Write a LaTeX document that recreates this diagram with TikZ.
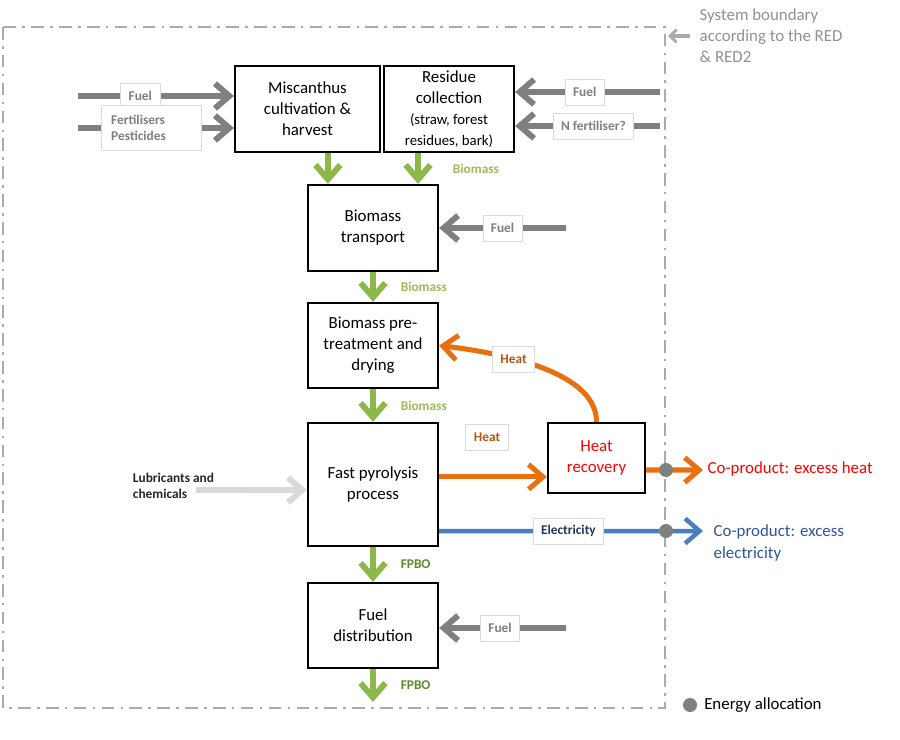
\documentclass[tikz,border=0pt]{standalone}
\usepackage{fontspec}
\setmainfont{Carlito}
\usetikzlibrary{arrows.meta,positioning,calc}
\definecolor{arrgray}{HTML}{7F7F7F}
\definecolor{lightarr}{HTML}{D9D9D9}
\definecolor{boundgray}{HTML}{ABABAB}
\definecolor{leafgreen}{HTML}{8CB84A}
\definecolor{biomasstext}{HTML}{9BBB59}
\definecolor{fpbotext}{HTML}{5A8A2E}
\definecolor{heatorange}{HTML}{E9700F}
\definecolor{heattext}{HTML}{B8560F}
\definecolor{elecblue}{HTML}{4A7EC0}
\definecolor{electext}{HTML}{1F3864}
\definecolor{coelec}{HTML}{2F5597}
\definecolor{dotgray}{HTML}{808080}
\newcommand{\boxfont}{\fontsize{12}{15}\selectfont}
\newcommand{\subfont}{\fontsize{10.5}{14}\selectfont}
\newcommand{\lblfont}{\fontsize{9.5}{11.5}\selectfont\bfseries}
\tikzset{
  procbox/.style={draw=black, line width=1.6pt, fill=white, align=center, font=\boxfont,
    minimum width=3.25cm, minimum height=2.15cm, inner sep=2pt},
  lbl/.style={draw=black!14, line width=0.6pt, fill=white, font=\lblfont, text=arrgray,
    minimum height=0.65cm, inner xsep=0.2cm},
  greenlbl/.style={font=\lblfont, text=biomasstext, inner sep=0pt},
  fpbolbl/.style={greenlbl, text=fpbotext},
  grayarr/.style={draw=arrgray, line width=4.2pt, -{Straight Barb[length=3.6mm,width=6.2mm]}},
  lightarr/.style={grayarr, draw=lightarr},
  greenarr/.style={grayarr, draw=leafgreen},
  orangearr/.style={grayarr, draw=heatorange, line width=3.6pt},
  bluearr/.style={grayarr, draw=elecblue, line width=3.2pt},
  sbarr/.style={draw=boundgray, line width=2.2pt, -{Straight Barb[length=1.6mm,width=3.2mm]}},
  boundary/.style={draw=boundgray, line width=1.9pt, dash pattern=on 9pt off 4.5pt on 1.8pt off 4.5pt},
  allocdot/.style={circle, fill=dotgray, inner sep=0pt, minimum size=0.35cm}
}
\begin{document}
\begin{tikzpicture}[x=0.025cm, y=-0.025cm]
  \useasboundingbox (0,0) rectangle (900,740);
  % system boundary
  \draw[boundary] (3,27) rectangle (665,708);

  % process chain
  \node[procbox, minimum width=3.625cm] (misc) at (307.5,109) {Miscanthus\\cultivation \&\\harvest};
  \node[procbox] (resid) at (449,109) {Residue\\collection\\{\subfont (straw, forest}\\{\subfont residues, bark)}};
  \node[procbox] (transp) at (373,228) {Biomass\\transport};
  \node[procbox, minimum height=2.125cm] (pretr) at (373,345.5) {Biomass pre-\\treatment and\\drying};
  \node[procbox, minimum height=3.075cm] (pyro) at (373,484.5) {Fast pyrolysis\\process};
  \node[procbox, minimum height=2.125cm] (fdist) at (373,625.5) {Fuel\\distribution};
  \node[procbox, minimum width=2.425cm, minimum height=1.75cm, text=red] (heatrec) at (596.5,458) {Heat\\recovery};

  % inputs
  \coordinate (fuelin1) at (78,96);
  \coordinate (fertin) at (78,128);
  \coordinate (fuelin2) at (660,92);
  \coordinate (nfertin) at (660,126);
  \coordinate (fuelin3) at (566,228);
  \coordinate (fuelin4) at (566,628);
  \draw[grayarr] (fuelin1) -- (fuelin1 -| misc.west) node[lbl, pos=0.4] (fuel1) {Fuel};
  \draw[grayarr] (fertin) -- (fertin -| misc.west) node[lbl, pos=0.47, text width=2cm, inner xsep=0.25cm,
    minimum height=1.125cm, align=left] (fert) {Fertilisers\\Pesticides};
  \draw[grayarr] (fuelin2) -- (fuelin2 -| resid.east) node[lbl, pos=0.52] (fuel2) {Fuel};
  \draw[grayarr] (nfertin) -- (nfertin -| resid.east) node[lbl, pos=0.46] (nfert) {N fertiliser?};
  \draw[grayarr] (fuelin3) -- (transp.east) node[lbl, pos=0.5] (fuel3) {Fuel};
  \draw[grayarr] (fuelin4) -- (fuelin4 -| fdist.east) node[lbl, pos=0.52] (fuel4) {Fuel};

  \node[anchor=west, align=left, font=\lblfont, text=black!85] (lubr) at (128,486) {Lubricants and\\chemicals};
  \coordinate (lubin) at (196,490);
  \draw[lightarr] (lubin) -- ([yshift=-0.14cm]pyro.west);

  % main flow
  \draw[greenarr] ([xshift=0.51cm]misc.south) -- ([xshift=0.51cm]misc.south |- transp.north);
  \draw[greenarr] ([xshift=-0.775cm]resid.south) -- ([xshift=-0.775cm]resid.south |- transp.north)
    node[greenlbl, midway, right=0.8cm] (bm1) {Biomass};
  \draw[greenarr] (transp.south) -- (pretr.north) node[greenlbl, midway, right=0.62cm] (bm2) {Biomass};
  \draw[greenarr] (pretr.south) -- (pyro.north) node[greenlbl, midway, right=0.62cm] (bm3) {Biomass};
  \draw[greenarr] (pyro.south) -- (fdist.north) node[fpbolbl, midway, right=0.62cm] (fpbo1) {FPBO};
  \coordinate (fpboout) at (373,702);
  \draw[greenarr] (fdist.south) -- (fpboout) node[fpbolbl, midway, right=0.62cm] (fpbo2) {FPBO};

  % heat and electricity
  \node[lbl, text=heattext] (heatlbl1) at (487,437) {Heat};
  \draw[orangearr] ([yshift=0.19cm]pyro.east) -- ([yshift=0.19cm]pyro.east -| heatrec.west);
  \draw[orangearr] (heatrec.north) .. controls +(0,-45) and +(82,10) .. (pretr.east)
    node[lbl, text=heattext, pos=0.68] (heatlbl2) {Heat};
  \coordinate (heatout) at (703,470);
  \draw[orangearr] ([yshift=-0.3cm]heatrec.east) -- (heatout);
  \node[allocdot] (dot1) at (666,470) {};
  \node[anchor=west, text=red, font=\boxfont, inner sep=1pt] (coheat) at (706,469) {Co-product: excess heat};

  \coordinate (elecout) at (703,531);
  \draw[bluearr] ([yshift=-1.1625cm]pyro.east) -- (elecout) node[lbl, text=electext, pos=0.49] (eleclbl) {Electricity};
  \node[allocdot] (dot2) at (666,531) {};
  \node[anchor=west, align=left, text=coelec, font=\boxfont, inner sep=1pt] (coelec) at (712,543) {Co-product: excess\\electricity};

  % boundary note and legend
  \coordinate (sbtail) at (690,36);
  \coordinate (sbtip) at (668,36);
  \draw[sbarr] (sbtail) -- (sbtip);
  \node[anchor=west, align=left, text=boundgray!85!black, font=\boxfont, inner sep=1pt] (sbtext) at (698,36)
    {System boundary\\according to the RED\\\& RED2};
  \node[allocdot] (legdot) at (690,705) {};
  \node[right=0.05cm of legdot, font=\boxfont] (legtext) {Energy allocation};
\end{tikzpicture}
\end{document}
